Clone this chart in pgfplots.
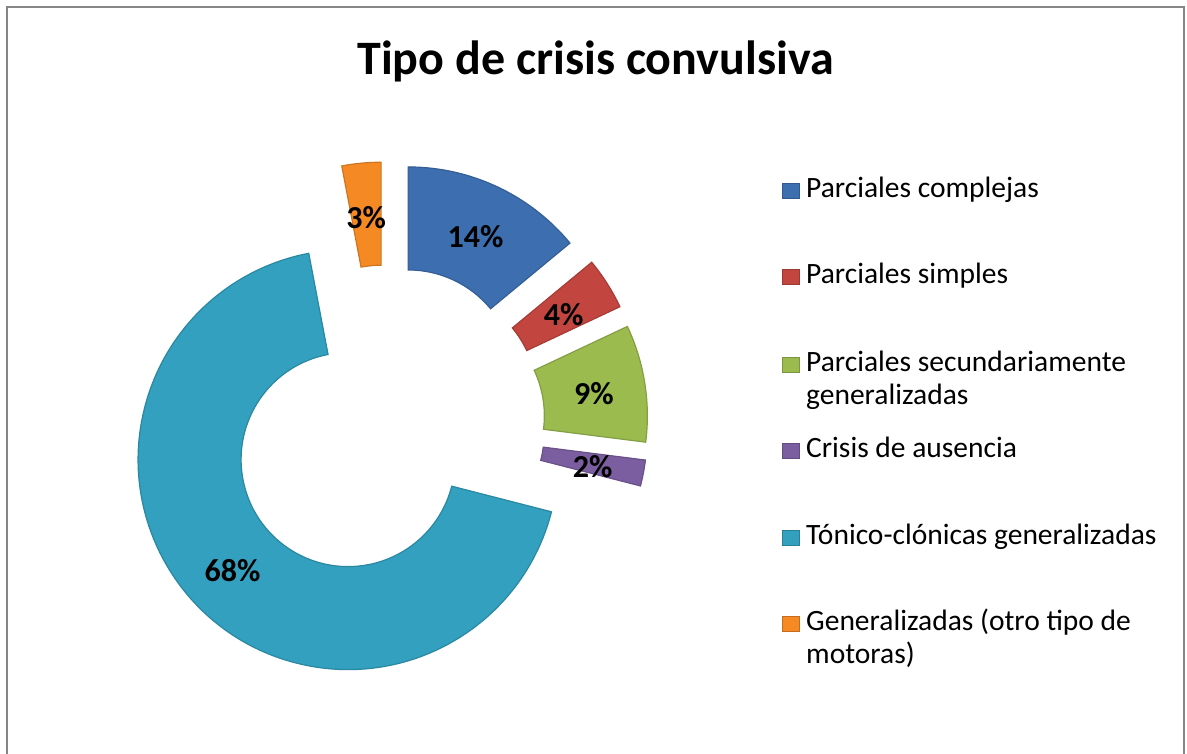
\documentclass[border=0pt]{standalone}
\usepackage{pgfplots}
\pgfplotsset{compat=1.18}
\usepackage{pgfplotstable}
\usepackage{fontspec}
\setmainfont{Carlito}

\definecolor{cblue}{HTML}{3D6FB0}
\definecolor{cred}{HTML}{C2463F}
\definecolor{cgreen}{HTML}{9BBB4F}
\definecolor{cpurple}{HTML}{7B5EA0}
\definecolor{cteal}{HTML}{32A0BE}
\definecolor{corange}{HTML}{F58A24}
\definecolor{framegray}{HTML}{868686}

\newcommand\labelfont{\fontsize{32}{38}\selectfont\bfseries}
\newcommand\legfont{\fontsize{29.5}{33}\selectfont}

\pgfplotstableread{
value colour
14 cblue
4 cred
9 cgreen
2 cpurple
68 cteal
3 corange
}\crisisdata

\def\cx{386}\def\cy{330}\def\Ro{210}\def\Ri{107}\def\dd{52}
\xdef\cum{0}%
\foreach \i in {0,...,5}{%
  \pgfplotstablegetelem{\i}{value}\of\crisisdata
  \edef\v{\pgfplotsretval}%
  \pgfplotstablegetelem{\i}{colour}\of\crisisdata
  \expandafter\xdef\csname col\i\endcsname{\pgfplotsretval}%
  \expandafter\xdef\csname val\i\endcsname{\v}%
  \pgfmathsetmacro{\a}{90-3.6*\cum}%
  \pgfmathsetmacro{\b}{90-3.6*(\cum+\v)}%
  \pgfmathsetmacro{\m}{(\a+\b)/2}%
  \pgfmathsetmacro{\ox}{\cx+\dd*cos(\m)}%
  \pgfmathsetmacro{\oy}{\cy+\dd*sin(\m)}%
  \pgfmathsetmacro{\pax}{\ox+\Ro*cos(\a)}%
  \pgfmathsetmacro{\pay}{\oy+\Ro*sin(\a)}%
  \pgfmathsetmacro{\pbx}{\ox+\Ri*cos(\b)}%
  \pgfmathsetmacro{\pby}{\oy+\Ri*sin(\b)}%
  \pgfmathsetmacro{\lx}{\ox+158.5*cos(\m)}%
  \pgfmathsetmacro{\ly}{\oy+158.5*sin(\m)-3}%
  \expandafter\xdef\csname sa\i\endcsname{\a}%
  \expandafter\xdef\csname sb\i\endcsname{\b}%
  \expandafter\xdef\csname pax\i\endcsname{\pax}%
  \expandafter\xdef\csname pay\i\endcsname{\pay}%
  \expandafter\xdef\csname pbx\i\endcsname{\pbx}%
  \expandafter\xdef\csname pby\i\endcsname{\pby}%
  \expandafter\xdef\csname lx\i\endcsname{\lx}%
  \expandafter\xdef\csname ly\i\endcsname{\ly}%
  \pgfmathsetmacro{\newcum}{\cum+\v}%
  \xdef\cum{\newcum}%
}

\begin{document}
\begin{tikzpicture}
\begin{axis}[
  width=1187pt, height=754pt, scale only axis,
  xmin=0, xmax=1187, ymin=0, ymax=754,
  enlargelimits=false, hide axis, clip=false,
]
% frame
\draw[framegray, line width=2.2pt] (axis cs:7,0) -- (axis cs:7,747) -- (axis cs:1184,747) -- (axis cs:1184,0);
% title
\node[anchor=base, inner sep=0pt, font=\fontsize{48}{58}\selectfont\bfseries] at (axis cs:595.5,679) {Tipo de crisis convulsiva};
% doughnut slices
\pgfplotsinvokeforeach{0,...,5}{%
  \edef\tmp{\noexpand\fill[\csname col#1\endcsname, draw=\csname col#1\endcsname!85!black, line width=1.2pt]
    (axis cs:\csname pax#1\endcsname,\csname pay#1\endcsname)
    arc[start angle=\csname sa#1\endcsname, end angle=\csname sb#1\endcsname, radius=\Ro pt]
    -- (axis cs:\csname pbx#1\endcsname,\csname pby#1\endcsname)
    arc[start angle=\csname sb#1\endcsname, end angle=\csname sa#1\endcsname, radius=\Ri pt]
    -- cycle;}%
  \tmp
}
\pgfplotsinvokeforeach{0,...,5}{%
  \edef\tmp{\noexpand\node[font=\noexpand\labelfont, inner sep=0pt] at (axis cs:\csname lx#1\endcsname,\csname ly#1\endcsname) {\csname val#1\endcsname\noexpand\%};}%
  \tmp
}
% legend
\fill[cblue, draw=cblue!80!black] (axis cs:782,556) rectangle (axis cs:799,571);
\node[anchor=base west, inner sep=0pt, font=\legfont] at (axis cs:806,556) {Parciales complejas};
\fill[cred, draw=cred!80!black] (axis cs:782,470) rectangle (axis cs:799,485);
\node[anchor=base west, inner sep=0pt, font=\legfont] at (axis cs:806,470) {Parciales simples};
\fill[cgreen, draw=cgreen!80!black] (axis cs:782,382) rectangle (axis cs:799,397);
\node[anchor=base west, inner sep=0pt, font=\legfont] at (axis cs:806,382) {Parciales secundariamente};
\node[anchor=base west, inner sep=0pt, font=\legfont] at (axis cs:806,349) {generalizadas};
\fill[cpurple, draw=cpurple!80!black] (axis cs:782,296) rectangle (axis cs:799,311);
\node[anchor=base west, inner sep=0pt, font=\legfont] at (axis cs:806,296) {Crisis de ausencia};
\fill[cteal, draw=cteal!80!black] (axis cs:782,209) rectangle (axis cs:799,224);
\node[anchor=base west, inner sep=0pt, font=\legfont] at (axis cs:806,209) {Tónico-clónicas generalizadas};
\fill[corange, draw=corange!80!black] (axis cs:782,123) rectangle (axis cs:799,138);
\node[anchor=base west, inner sep=0pt, font=\legfont] at (axis cs:806,123) {Generalizadas (otro tipo de};
\node[anchor=base west, inner sep=0pt, font=\legfont] at (axis cs:806,90) {motoras)};
\end{axis}
\pgfresetboundingbox
\path[use as bounding box] (current axis.south west) rectangle (current axis.north east);
\end{tikzpicture}
\end{document}
